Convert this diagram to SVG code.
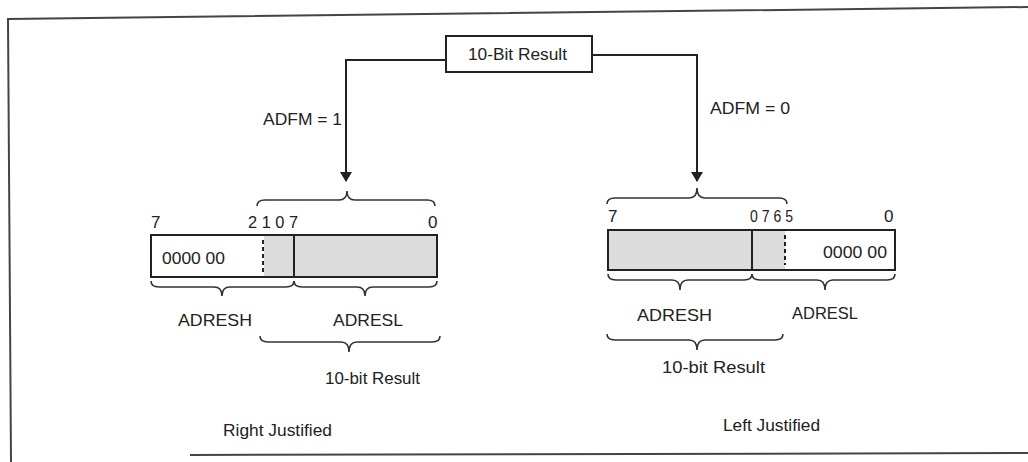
<svg xmlns="http://www.w3.org/2000/svg" width="1028" height="462" viewBox="0 0 1028 462">
<defs>
<style>
.t{font-family:"Liberation Sans",Arial,sans-serif;font-size:17px;fill:#222}
.frame{fill:none;stroke:#444;stroke-width:2}
.reg{fill:#fff;stroke:#222;stroke-width:2}
.shade{fill:#dcdcdc;stroke:none}
.div{stroke:#222;stroke-width:2}
.dash{stroke:#222;stroke-width:2;stroke-dasharray:4,3}
.brace{fill:none;stroke:#333;stroke-width:1.6}
.conn{fill:none;stroke:#222;stroke-width:2}
</style>
<marker id="arr" markerWidth="10" markerHeight="14" refX="9" refY="7" orient="auto" markerUnits="userSpaceOnUse">
<path d="M0,1 L10,7 L0,13 Z" fill="#222"/>
</marker>
</defs>
<rect width="1028" height="462" fill="#fff"/>
<g id="frame">
<path class="frame" d="M1028,7 L8,19 L11,462"/>
<path class="frame" d="M190,455 L1028,453"/>
</g>
<g id="connectors">
<path class="conn" d="M446,60 L346,60 L346,181" marker-end="url(#arr)"/>
<path class="conn" d="M592,55 L697,55 L697,181" marker-end="url(#arr)"/>
</g>
<g id="source">
<rect class="reg" x="446" y="36" width="146" height="36"/>
<text class="t" x="468" y="60" textLength="99" lengthAdjust="spacingAndGlyphs">10-Bit Result</text>
</g>
<text class="t" x="263" y="125" textLength="79" lengthAdjust="spacingAndGlyphs">ADFM = 1</text>
<text class="t" x="710" y="114" textLength="80" lengthAdjust="spacingAndGlyphs">ADFM = 0</text>
<g id="right-justified">
<path class="brace" d="M257,206 Q257,200 265,200 L339,200 Q347,200 347,191 Q347,200 355,200 L427,200 Q435,200 435,206"/>
<text class="t" x="151" y="228">7</text>
<text class="t" x="248" y="228" textLength="50" lengthAdjust="spacingAndGlyphs">2 1 0 7</text>
<text class="t" x="428" y="228">0</text>
<rect class="reg" x="151" y="235" width="286" height="42"/>
<rect class="shade" x="264" y="236" width="172" height="40"/>
<line class="div" x1="294" y1="235" x2="294" y2="277"/>
<line class="dash" x1="263" y1="240" x2="263" y2="272"/>
<text class="t" x="162" y="264" textLength="63" lengthAdjust="spacingAndGlyphs">0000 00</text>
<path class="brace" d="M151,281 Q151,287 159,287 L214,287 Q222,287 222,296 Q222,287 230,287 L286,287 Q294,287 294,281"/>
<path class="brace" d="M294,281 Q294,287 302,287 L357,287 Q365,287 365,296 Q365,287 373,287 L429,287 Q437,287 437,281"/>
<text class="t" x="178" y="326" textLength="74" lengthAdjust="spacingAndGlyphs">ADRESH</text>
<text class="t" x="333" y="326" textLength="70" lengthAdjust="spacingAndGlyphs">ADRESL</text>
<path class="brace" d="M260,336 Q260,342 268,342 L341,342 Q349,342 349,352 Q349,342 357,342 L432,342 Q440,342 440,336"/>
<text class="t" x="325" y="384" textLength="95" lengthAdjust="spacingAndGlyphs">10-bit Result</text>
<text class="t" x="223" y="436" textLength="109" lengthAdjust="spacingAndGlyphs">Right Justified</text>
</g>
<g id="left-justified">
<path class="brace" d="M607,204 Q607,198 615,198 L689,198 Q697,198 697,188 Q697,198 705,198 L779,198 Q787,198 787,204"/>
<text class="t" x="608" y="222">7</text>
<text class="t" x="750" y="222" textLength="43" lengthAdjust="spacingAndGlyphs">0 7 6 5</text>
<text class="t" x="884" y="222">0</text>
<rect class="reg" x="608" y="230" width="287" height="40"/>
<rect class="shade" x="609" y="231" width="176" height="38"/>
<line class="div" x1="752" y1="230" x2="752" y2="270"/>
<line class="dash" x1="785" y1="235" x2="785" y2="265"/>
<text class="t" x="823" y="258" textLength="64" lengthAdjust="spacingAndGlyphs">0000 00</text>
<path class="brace" d="M608,274 Q608,280 616,280 L672,280 Q680,280 680,290 Q680,280 688,280 L744,280 Q752,280 752,274"/>
<path class="brace" d="M752,274 Q752,280 760,280 L817,280 Q825,280 825,290 Q825,280 833,280 L887,280 Q895,280 895,274"/>
<text class="t" x="637" y="321" textLength="75" lengthAdjust="spacingAndGlyphs">ADRESH</text>
<text class="t" x="792" y="319" textLength="66" lengthAdjust="spacingAndGlyphs">ADRESL</text>
<path class="brace" d="M607,334 Q607,340 615,340 L689,340 Q697,340 697,350 Q697,340 705,340 L775,340 Q783,340 783,334"/>
<text class="t" x="662" y="373" textLength="103" lengthAdjust="spacingAndGlyphs">10-bit Result</text>
<text class="t" x="723" y="431" textLength="97" lengthAdjust="spacingAndGlyphs">Left Justified</text>
</g>
</svg>
